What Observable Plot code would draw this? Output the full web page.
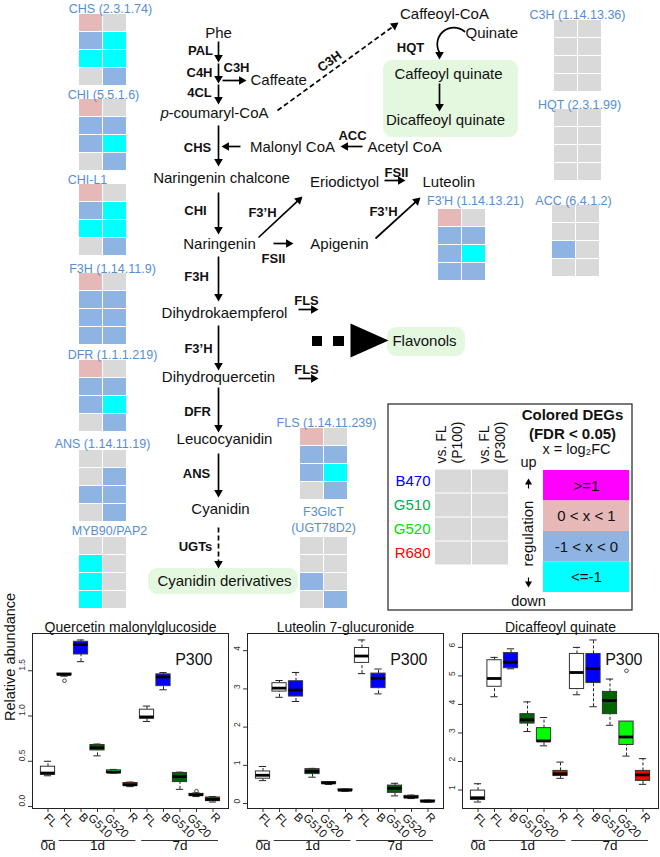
<!DOCTYPE html>
<html><head><meta charset="utf-8">
<script src="https://cdn.jsdelivr.net/npm/d3@7"></script>
<script src="https://cdn.jsdelivr.net/npm/@observablehq/plot@0.6"></script>
<style>
body{margin:0;background:#fff;}
#fig{position:relative;width:660px;height:857px;overflow:hidden;}
#fig > div{position:absolute;}
svg{overflow:visible;}
</style></head><body><div id="fig"></div>
<script>
// ================= DATA =================
const degClasses = ["up1", "up", "dn", "dn1", "ns"];
const degColors = ["#ff00ff", "#e6b9b8", "#8db4e2", "#00ffff", "#d9d9d9"];
const degLegendLabels = [">=1", "0 < x < 1", "-1 < x < 0", "<=-1"];
const lightConditions = ["B470", "G510", "G520", "R680"];
const lightColors = ["#0000ff", "#00b050", "#00e000", "#ff0000"];
const comparisonHeaders = ["vs. FL\n(P100)", "vs. FL\n(P300)"];

const geneNames = ["CHS (2.3.1.74)", "CHI (5.5.1.6)", "CHI-L1", "F3H (1.14.11.9)", "DFR (1.1.1.219)",
  "ANS (1.14.11.19)", "MYB90/PAP2", "C3H (1.14.13.36)", "HQT (2.3.1.99)", "F3'H (1.14.13.21)",
  "ACC (6.4.1.2)", "FLS (1.14.11.239)", "F3GlcT\n(UGT78D2)"];
// each gene: rows B470, G510, G520, R680 ; per row [vs FL P100, vs FL P300]
const geneCalls = [
  ["up","ns", "dn","dn1", "dn1","dn1", "ns","dn"],   // CHS
  ["up","ns", "dn","dn",  "dn","dn1",  "ns","dn"],   // CHI
  ["up","ns", "dn","dn1", "dn1","dn1", "ns","dn"],   // CHI-L1
  ["up","ns", "dn","dn",  "dn","dn",   "dn","dn"],   // F3H
  ["up","ns", "dn","dn",  "dn","dn1",  "ns","dn"],   // DFR
  ["ns","ns", "ns","dn",  "dn","dn",   "ns","dn"],   // ANS
  ["ns","ns", "dn1","ns", "dn1","ns",  "dn1","ns"],  // MYB90/PAP2
  ["ns","ns", "ns","ns",  "ns","ns",   "ns","ns"],   // C3H
  ["ns","ns", "ns","ns",  "ns","ns",   "ns","ns"],   // HQT
  ["up","ns", "dn","dn",  "dn","dn1",  "dn","dn"],   // F3'H
  ["ns","ns", "ns","ns",  "dn","ns",   "ns","ns"],   // ACC
  ["up","ns", "dn","dn",  "dn","dn1",  "ns","dn"],   // FLS
  ["ns","ns", "ns","ns",  "dn","ns",   "ns","dn"]    // F3GlcT
];

const compoundNames = ["Phe", "Caffeate", "-coumaryl-CoA", "Malonyl CoA", "Acetyl CoA", "Naringenin chalcone",
  "Eriodictyol", "Luteolin", "Naringenin", "Apigenin", "Dihydrokaempferol", "Dihydroquercetin",
  "Leucocyanidin", "Cyanidin", "Cyanidin derivatives", "Flavonols", "Caffeoyl-CoA", "Quinate",
  "Caffeoyl quinate", "Dicaffeoyl quinate"];
const enzymeNames = ["PAL", "C4H", "C3H", "4CL", "CHS", "ACC", "CHI", "F3’H", "FSII", "FSII", "F3’H",
  "F3H", "FLS", "F3’H", "FLS", "DFR", "ANS", "UGTs", "HQT"];
const pathwayTitles = ["Quercetin malonylglucoside", "Luteolin 7-glucuronide", "Dicaffeoyl quinate"];

// Boxplots: samples and summary stats [lower whisker, Q1, median, Q3, upper whisker]
const sampleLabels = ["FL", "FL", "B", "G510", "G520", "R", "FL", "B", "G510", "G520", "R"];
const sampleGroups = ["FL", "B", "G510", "G520", "R"];
const sampleColors = ["#ffffff", "#0000ff", "#006400", "#00ff00", "#ff0000"];
const dayNames = ["0d", "1d", "7d"];
const daySpans = [[1, 1], [2, 6], [7, 11]];

const quercetinStats = [
  [0.34,0.35,0.37,0.44,0.50], [1.44,1.45,1.46,1.47,1.47], [1.60,1.68,1.79,1.82,1.84],
  [0.56,0.62,0.65,0.68,0.69], [0.37,0.37,0.38,0.40,0.41], [0.22,0.23,0.24,0.26,0.27],
  [0.94,0.97,0.99,1.07,1.11], [1.29,1.33,1.43,1.46,1.48], [0.19,0.27,0.33,0.37,0.38],
  [0.11,0.12,0.13,0.14,0.15], [0.05,0.06,0.08,0.10,0.11]];
const quercetinOutliers = [[2, 1.39], [10, 0.17]];
const luteolinStats = [
  [0.60,0.65,0.74,0.84,0.97], [2.78,2.93,3.02,3.15,3.22], [2.67,2.80,2.97,3.20,3.43],
  [0.69,0.77,0.84,0.90,0.92], [0.50,0.52,0.54,0.56,0.57], [0.32,0.34,0.35,0.37,0.38],
  [3.40,3.68,3.86,4.07,4.28], [2.87,3.02,3.28,3.40,3.52], [0.20,0.28,0.40,0.47,0.53],
  [0.13,0.14,0.17,0.20,0.22], [0.04,0.05,0.06,0.08,0.09]];
const luteolinOutliers = [];
const dicaffeoylStats = [
  [0.58,0.65,0.73,0.98,1.22], [4.27,4.62,4.91,5.55,5.65], [5.25,5.27,5.48,5.80,5.95],
  [3.05,3.33,3.46,3.66,4.09], [2.55,2.70,2.72,3.17,3.54], [1.41,1.49,1.57,1.67,1.98],
  [4.34,4.54,5.12,5.77,6.00], [3.92,4.75,5.26,5.77,6.26], [3.27,3.66,4.14,4.44,4.89],
  [2.19,2.58,2.86,3.40,3.40], [1.20,1.32,1.53,1.67,2.10]];
const dicaffeoylOutliers = [[10, 5.18]];
const quercetinTicks = [0, 0.5, 1, 1.5];
const luteolinTicks = [0, 1, 2, 3, 4];
const dicaffeoylTicks = [1, 2, 3, 4, 5, 6];

// ================= LAYOUT (diagram positions, px) =================
const geneLayout = [ // [labelX, labelY, cellX, cellY]
  [110,7,79,14],[103,93,79,99],[87,178,79,184],[112,267,79,273],[112,353,79,360],[102,442,79,450],
  [109,529,79,537],[577,13,554,20],[579,103,554,109],[475,199,438,209],[573,199,552,205],
  [326,421,300,428],[323,518,300,537]];
const compoundLayout = [[218,33,"middle"],[250,80,"start"],[168,113,"start"],[292,147,"middle"],
  [367,147,"start"],[221,178,"middle"],[344,182,"middle"],[422,182,"start"],[219,244,"middle"],
  [339,244,"middle"],[224,313,"middle"],[218,377,"middle"],[224,439,"middle"],[220,509,"middle"],
  [224,581,"middle"],[424,341,"middle"],[444,14,"middle"],[465,33,"start"],[448,74,"middle"],[445,120,"middle"]];
const enzymeLayout = [[200,50],[199,72],[236,67],[199,92],[197,147],[352,135],[195,210],[262,212],
  [273,258],[396,172],[383,211],[196,276],[306,300],[198,348],[306,369],[197,411],[196,473],[195,546],[410,47]];
const arrowLayout = [ // x1,y1,x2,y2,dashed
  [218,41,218,62,0],[218,63,218,83,0],[218,84,218,104,0],[222,80,246,80,0],[277,110,398,22,1],
  [218,125,218,166,0],[240,146,221,146,0],[362,146,340,146,0],[218,192,218,234,0],[258,237,302,196,0],
  [273,243,293,243,0],[384,180,405,180,0],[375,238,420,197,0],[218,256,218,301,0],[298,309,318,309,0],
  [218,325,218,370,0],[298,378,318,378,0],[218,387,218,432,0],[218,453,218,497,0],[218,527,218,568,1],
  [439,83,439,111,0]];

const FONT = '"Liberation Sans", Arial, Helvetica, sans-serif';
const fig = document.getElementById("fig");
function place(el, left, topPx) {
  const d = document.createElement("div");
  d.style.left = left + "px"; d.style.top = topPx + "px";
  d.appendChild(el); fig.appendChild(d);
}

// ---------- derived mark data ----------
const headR = 3.2;
const headTip = 2 * Math.sqrt(Math.PI * headR * headR / (3 * Math.sqrt(3)));
function arrowParts(list) {
  return list.map(([x1,y1,x2,y2,dashed]) => {
    const dx = x2 - x1, dy = y2 - y1, L = Math.hypot(dx, dy);
    const hx = x2 - dx / L * headTip, hy = y2 - dy / L * headTip;
    return {x1, y1, x2: hx, y2: hy, hx, hy, angle: Math.atan2(dx, -dy) * 180 / Math.PI, dashed};
  });
}
const arrows = arrowParts(arrowLayout);
const legendArrows = arrowParts([[528,488,528,477,0],[528,577,528,588,0]]);

const cells = [];
geneCalls.forEach((calls, g) => {
  const [, , cx, cy] = geneLayout[g];
  calls.forEach((c, k) => {
    const row = Math.floor(k / 2), col = k % 2;
    cells.push({x1: cx + col * 24, x2: cx + col * 24 + 23, y1: cy + row * 18, y2: cy + row * 18 + 17, call: c});
  });
});
const legendCells = [];
lightConditions.forEach((c, r) => comparisonHeaders.forEach((h, col) =>
  legendCells.push({x1: 435 + col * 37, x2: 435 + col * 37 + 36, y1: 469.5 + r * 24, y2: 469.5 + r * 24 + 23, call: "ns"})));
const keyRects = degLegendLabels.map((lab, k) => ({x1: 543, x2: 629, y1: 470 + k * 30.5, y2: 470 + (k + 1) * 30.5, call: degClasses[k], lab}));

const genes = geneNames.map((n, g) => ({text: n, x: geneLayout[g][0], y: geneLayout[g][1]}));
const compounds = compoundNames.map((n, k) => ({text: n, x: compoundLayout[k][0], y: compoundLayout[k][1], a: compoundLayout[k][2]}));
const enzymes = enzymeNames.map((n, k) => ({text: n, x: enzymeLayout[k][0], y: enzymeLayout[k][1]}));

const diagram = Plot.plot({
  width: 660, height: 615, margin: 0,
  x: {type: "identity", axis: null}, y: {type: "identity", axis: null},
  color: {type: "ordinal", domain: degClasses, range: degColors},
  style: {fontFamily: FONT, background: "none", overflow: "visible"},
  marks: [
    Plot.rect([{x1:383,x2:518,y1:60,y2:137},{x1:387,x2:465,y1:327,y2:356},{x1:148,x2:298,y1:568,y2:594}],
      {x1:"x1",x2:"x2",y1:"y1",y2:"y2",fill:"#e3f8df",rx:9}),
    Plot.rect(cells, {x1:"x1",x2:"x2",y1:"y1",y2:"y2",fill:"call"}),
    Plot.text(genes, {x:"x",y:"y",text:"text",fill:"#558ed5",fontSize:12.5,lineHeight:1.3}),
    Plot.text(compounds.filter(d=>d.a==="middle"), {x:"x",y:"y",text:"text",fontSize:15,fill:"#111"}),
    Plot.text(compounds.filter(d=>d.a==="start"), {x:"x",y:"y",text:"text",fontSize:15,fill:"#111",textAnchor:"start"}),
    Plot.text([{x:160,y:113,t:"p"}], {x:"x",y:"y",text:"t",fontSize:15,fill:"#111",textAnchor:"start",fontStyle:"italic"}),
    Plot.text(enzymes, {x:"x",y:"y",text:"text",fontSize:13,fontWeight:"bold",fill:"#111"}),
    Plot.text([{x:329,y:61,t:"C3H"}], {x:"x",y:"y",text:"t",fontSize:13,fontWeight:"bold",rotate:-36,fill:"#111"}),
    Plot.link(arrows.filter(d=>!d.dashed), {x1:"x1",y1:"y1",x2:"x2",y2:"y2",stroke:"black",strokeWidth:1.7}),
    Plot.link(arrows.filter(d=>d.dashed), {x1:"x1",y1:"y1",x2:"x2",y2:"y2",stroke:"black",strokeWidth:1.7,strokeDasharray:"5,3"}),
    Plot.dot(arrows, {x:"hx",y:"hy",r:headR,symbol:"triangle",fill:"black",stroke:"none",rotate:"angle"}),
    Plot.arrow([{x1:464,y1:31,x2:439,y2:52}], {x1:"x1",y1:"y1",x2:"x2",y2:"y2",bend:-80,headLength:0,stroke:"black",strokeWidth:1.7}),
    Plot.dot([{x:439,y:54}], {x:"x",y:"y",r:headR,symbol:"triangle",fill:"black",stroke:"none",rotate:180}),
    Plot.rect([{x1:312,x2:322},{x1:333,x2:344}], {x1:"x1",x2:"x2",y1:()=>336,y2:()=>346,fill:"black"}),
    Plot.line([{x:350,y:323},{x:388,y:340},{x:350,y:357}], {x:"x",y:"y",fill:"black",stroke:"none"}),
    Plot.rect([{x1:388,x2:632,y1:404,y2:610}], {x1:"x1",x2:"x2",y1:"y1",y2:"y2",fill:"none",stroke:"#222",strokeWidth:1.2}),
    Plot.rect(legendCells, {x1:"x1",x2:"x2",y1:"y1",y2:"y2",fill:"call"}),
    Plot.text(comparisonHeaders.map((h,k)=>({t:h,x:448+k*43})), {x:"x",y:()=>463,text:"t",rotate:-90,textAnchor:"start",fontSize:14,lineHeight:1.15,fill:"#111"}),
    Plot.text(lightConditions.map((c,k)=>({t:c,y:481+k*24,c:lightColors[k]})), {x:()=>430,y:"y",text:"t",fill:"c",textAnchor:"end",fontSize:15}),
    Plot.text([{t:"Colored DEGs",y:415},{t:"(FDR < 0.05)",y:434}], {x:()=>572,y:"y",text:"t",fontSize:15,fontWeight:"bold",fill:"#111"}),
    Plot.text([{t:"x = log₂FC",y:449}], {x:()=>576,y:"y",text:"t",fontSize:14.5,fill:"#111"}),
    Plot.rect(keyRects, {x1:"x1",x2:"x2",y1:"y1",y2:"y2",fill:"call"}),
    Plot.text(keyRects, {x:()=>586,y:d=>(d.y1+d.y2)/2,text:"lab",fontSize:15,fill:"#111"}),
    Plot.text([{t:"up",y:462},{t:"down",y:601}], {x:()=>528,y:"y",text:"t",fontSize:14.5,fill:"#111"}),
    Plot.text([{t:"regulation",y:533}], {x:()=>528,y:"y",text:"t",rotate:-90,fontSize:15,fill:"#111"}),
    Plot.link(legendArrows, {x1:"x1",y1:"y1",x2:"x2",y2:"y2",stroke:"black",strokeWidth:1.2}),
    Plot.dot(legendArrows, {x:"hx",y:"hy",r:2.6,symbol:"triangle",fill:"black",stroke:"none",rotate:"angle"})
  ]
});
place(diagram, 0, 0);

// ---------- boxplots ----------
function boxPanel(title, stats, outliers, ticks, fmt, showYLabel, width) {
  const rows = stats.map((s, k) => ({i: k + 1, label: sampleLabels[k], lo: s[0], q1: s[1], med: s[2], q3: s[3], hi: s[4]}));
  const outs = outliers.map(([i, v]) => ({i, v}));
  const vals = [...stats.flat(), ...outs.map(o => o.v)];
  const mn = d3.min(vals), mx = d3.max(vals), ext = (mx - mn) * 0.04;
  const ymin = mn - ext;
  const days = dayNames.map((d, k) => ({d, a: daySpans[k][0], b: daySpans[k][1]}));
  const hw = 0.43, cw = 0.22;
  return Plot.plot({
    width, height: 245, marginTop: 21, marginBottom: 49, marginLeft: 32, marginRight: width - 32 - 196,
    x: {domain: [0.5 - 0.44, 11.5 + 0.44], axis: null},
    y: {domain: [ymin, mx + ext], axis: null},
    color: {type: "ordinal", domain: sampleGroups, range: sampleColors},
    style: {fontFamily: FONT, background: "none", overflow: "visible"},
    marks: [
      Plot.axisY(ticks, {tickSize: 4, tickFormat: () => "", label: null, stroke: "#333"}),
      Plot.text(ticks, {y: d => d, text: fmt, frameAnchor: "left", dx: -10, rotate: -90, fontSize: 8.5, fill: "#333"}),
      Plot.axisX(d3.range(1, 12), {tickSize: 4, tickFormat: () => "", label: null, stroke: "#333"}),
      Plot.ruleX(rows, {x: "i", y1: "lo", y2: "q1", stroke: "#222", strokeDasharray: "3,2"}),
      Plot.ruleX(rows, {x: "i", y1: "q3", y2: "hi", stroke: "#222", strokeDasharray: "3,2"}),
      Plot.ruleY(rows, {y: "lo", x1: d => d.i - cw, x2: d => d.i + cw, stroke: "#222"}),
      Plot.ruleY(rows, {y: "hi", x1: d => d.i - cw, x2: d => d.i + cw, stroke: "#222"}),
      Plot.rect(rows, {x1: d => d.i - hw, x2: d => d.i + hw, y1: "q1", y2: "q3", fill: "label", stroke: "#333"}),
      Plot.ruleY(rows, {y: "med", x1: d => d.i - hw, x2: d => d.i + hw, stroke: "black", strokeWidth: 2.8}),
      Plot.dot(outs, {x: "i", y: "v", r: 1.8, stroke: "#333", strokeWidth: 0.9}),
      Plot.frame({stroke: "#222"}),
      Plot.text([title], {frameAnchor: "top", dy: -11, fontSize: 14, fill: "#111"}),
      Plot.text(["P300"], {frameAnchor: "top-right", dx: -16, dy: 20, fontSize: 16, textAnchor: "end", fill: "#111"}),
      ...(showYLabel ? [Plot.text(["Relative abundance"], {frameAnchor: "left", dx: -22, rotate: -90, fontSize: 14.5, fill: "#111"})] : []),
      ...[[1, 12], [2, 14.5], [4, 20]].map(([len, dy]) =>
        Plot.text(rows.filter(r => r.label.length === len), {x: "i", text: "label", frameAnchor: "bottom", dy, rotate: 45, fontSize: 11.5, fill: "#111"})),
      Plot.link(days, {x1: d => d.a - 0.35, x2: d => d.b + 0.3, y1: () => ymin, y2: () => ymin, dy: 32, stroke: "#333", strokeWidth: 1.2}),
      Plot.text(days, {x: d => (d.a + d.b) / 2, text: "d", frameAnchor: "bottom", dy: 41, fontSize: 13.5, fill: "#111"})
    ]
  });
}
place(boxPanel(pathwayTitles[0], quercetinStats, quercetinOutliers, quercetinTicks, d3.format(".1f"), true, 230), 0, 612);
place(boxPanel(pathwayTitles[1], luteolinStats, luteolinOutliers, luteolinTicks, d3.format("d"), false, 230), 215, 612);
place(boxPanel(pathwayTitles[2], dicaffeoylStats, dicaffeoylOutliers, dicaffeoylTicks, d3.format("d"), false, 230), 430, 612);
</script></body></html>
